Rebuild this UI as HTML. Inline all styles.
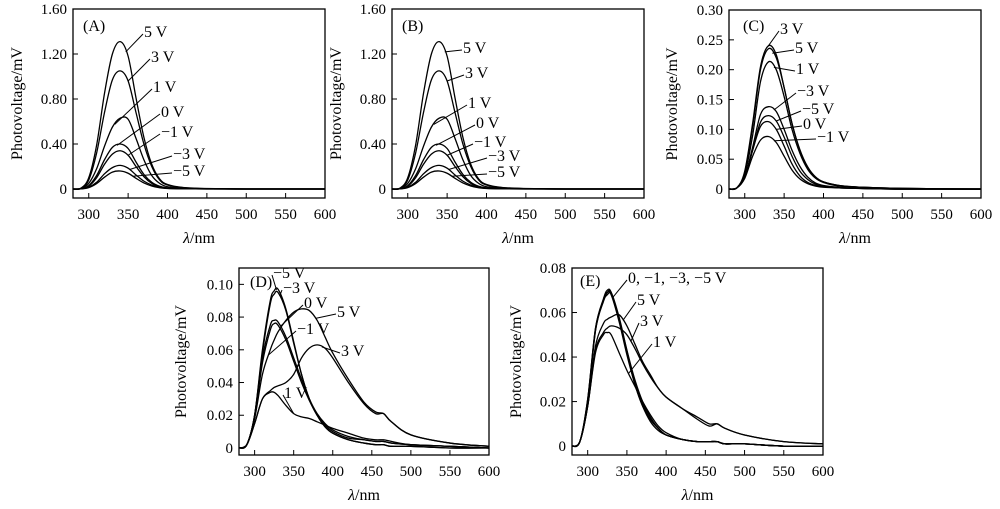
<!DOCTYPE html>
<html><head><meta charset="utf-8">
<style>
html,body{margin:0;padding:0;background:#fff;}
svg{display:block;font-family:"Liberation Serif",serif;}
</style></head>
<body>
<svg id="fig" width="1000" height="509" viewBox="0 0 1000 509" xmlns="http://www.w3.org/2000/svg"></svg>
<script>
// ---- shared x tick data ----
const xTickVals = [300,350,400,450,500,550,600];
// ---- Panel A / B data ----
const wlAB = [280,290,300,310,320,330,340,350,360,370,380,390,400,420,450,500,600];
const a5 = [0,0.007,0.1,0.39,0.85,1.2,1.31,1.18,0.81,0.46,0.22,0.09,0.04,0.013,0.004,0,0];
const a3 = [0,0.005,0.08,0.32,0.68,0.97,1.05,0.96,0.68,0.4,0.2,0.08,0.035,0.012,0.003,0,0];
const a1 = [0,0.003,0.05,0.18,0.38,0.55,0.63,0.62,0.45,0.26,0.12,0.05,0.02,0.008,0.002,0,0];
const a0 = [0,0.002,0.03,0.12,0.26,0.37,0.40,0.36,0.24,0.13,0.06,0.025,0.01,0.004,0.001,0,0];
const am1 = [0,0.002,0.025,0.1,0.22,0.31,0.34,0.3,0.2,0.11,0.05,0.02,0.008,0.003,0.001,0,0];
const am3 = [0,0.001,0.016,0.06,0.135,0.19,0.21,0.185,0.125,0.07,0.035,0.014,0.006,0.002,0,0,0];
const am5 = [0,0.001,0.012,0.048,0.105,0.15,0.16,0.14,0.095,0.054,0.027,0.011,0.005,0.002,0,0,0];
const yTicksAB = [0,0.4,0.8,1.2,1.6];
const yLabelsAB = ["0","0.40","0.80","1.20","1.60"];
// ---- Panel C data ----
const wlC = [280,290,300,310,320,330,340,350,360,370,380,390,400,420,450,500,600];
const c3 = [0,0.002,0.03,0.11,0.205,0.24,0.225,0.17,0.11,0.065,0.036,0.02,0.012,0.006,0.003,0.001,0];
const c5 = [0,0.002,0.028,0.105,0.2,0.235,0.22,0.17,0.11,0.066,0.037,0.02,0.012,0.006,0.003,0.001,0];
const c1 = [0,0.002,0.025,0.09,0.18,0.213,0.2,0.155,0.1,0.06,0.033,0.018,0.011,0.005,0.003,0.001,0];
const cm3 = [0,0.002,0.02,0.07,0.125,0.138,0.13,0.1,0.065,0.038,0.02,0.01,0.006,0.003,0.001,0,0];
const cm5 = [0,0.002,0.02,0.065,0.112,0.123,0.114,0.087,0.055,0.03,0.016,0.008,0.005,0.002,0.001,0,0];
const c0 = [0,0.002,0.02,0.065,0.105,0.113,0.1,0.072,0.042,0.022,0.011,0.006,0.004,0.002,0.001,0,0];
const cm1 = [0,0.002,0.018,0.055,0.082,0.088,0.078,0.055,0.032,0.017,0.009,0.005,0.003,0.002,0.001,0,0];
const yTicksC = [0,0.05,0.1,0.15,0.2,0.25,0.3];
const yLabelsC = ["0","0.05","0.10","0.15","0.20","0.25","0.30"];
// ---- Panel D data ----
const wlDE = [280,290,300,310,320,325,330,340,350,360,370,380,390,400,420,440,455,465,475,500,550,600];
const dm5 = [0,0.002,0.02,0.06,0.09,0.096,0.097,0.085,0.065,0.045,0.03,0.02,0.013,0.009,0.005,0.003,0.002,0.002,0.001,0.001,0,0];
const dm3 = [0,0.002,0.02,0.058,0.088,0.094,0.095,0.084,0.064,0.045,0.03,0.02,0.013,0.009,0.005,0.003,0.002,0.002,0.001,0.001,0,0];
const d0 = [0,0.002,0.02,0.055,0.075,0.078,0.077,0.068,0.055,0.042,0.03,0.021,0.015,0.011,0.007,0.005,0.004,0.004,0.003,0.002,0.001,0];
const dm1 = [0,0.002,0.019,0.052,0.072,0.076,0.075,0.066,0.053,0.04,0.029,0.02,0.014,0.01,0.006,0.005,0.004,0.004,0.003,0.002,0.001,0];
const d5 = [0,0.002,0.018,0.045,0.06,0.066,0.071,0.078,0.083,0.085,0.084,0.078,0.068,0.058,0.042,0.028,0.022,0.021,0.016,0.008,0.003,0.001];
const d3 = [0,0.002,0.015,0.03,0.035,0.037,0.038,0.04,0.045,0.055,0.061,0.063,0.061,0.055,0.04,0.027,0.021,0.021,0.016,0.008,0.003,0.001];
const d1 = [0,0.002,0.015,0.03,0.034,0.034,0.032,0.026,0.021,0.019,0.018,0.016,0.014,0.012,0.009,0.006,0.005,0.005,0.004,0.002,0.001,0];
const yTicksD = [0,0.02,0.04,0.06,0.08,0.1];
const yLabelsD = ["0","0.02","0.04","0.06","0.08","0.10"];
// ---- Panel E data ----
const e0 = [0,0.002,0.02,0.052,0.065,0.069,0.069,0.058,0.043,0.029,0.019,0.012,0.008,0.005,0.003,0.002,0.002,0.002,0.001,0.001,0,0];
const em1 = [0,0.002,0.02,0.052,0.066,0.070,0.069,0.057,0.042,0.028,0.018,0.012,0.008,0.005,0.003,0.002,0.002,0.002,0.001,0.001,0,0];
const em3 = [0,0.002,0.021,0.053,0.066,0.069,0.068,0.056,0.041,0.028,0.018,0.011,0.007,0.005,0.003,0.002,0.002,0.002,0.001,0.001,0,0];
const em5 = [0,0.002,0.021,0.053,0.065,0.068,0.068,0.057,0.043,0.03,0.02,0.013,0.008,0.005,0.003,0.002,0.002,0.002,0.001,0.001,0,0];
const e5 = [0,0.002,0.018,0.045,0.055,0.057,0.058,0.059,0.054,0.046,0.038,0.032,0.026,0.022,0.017,0.013,0.01,0.01,0.008,0.005,0.002,0.001];
const e3 = [0,0.002,0.018,0.043,0.051,0.053,0.054,0.053,0.05,0.044,0.037,0.031,0.026,0.022,0.017,0.012,0.009,0.01,0.008,0.005,0.002,0.001];
const e1 = [0,0.002,0.018,0.042,0.05,0.051,0.05,0.042,0.034,0.027,0.02,0.014,0.009,0.006,0.003,0.002,0.002,0.002,0.001,0.001,0,0];
const yTicksE = [0,0.02,0.04,0.06,0.08];
const yLabelsE = ["0","0.02","0.04","0.06","0.08"];

const NS = "http://www.w3.org/2000/svg";
const svg = document.getElementById('fig');
function mk(tag, attrs, parent){ const e=document.createElementNS(NS,tag); for(const k in attrs) e.setAttribute(k,attrs[k]); (parent||svg).appendChild(e); return e; }

function smoothPath(pts){
  let d = "M"+pts[0][0].toFixed(2)+","+pts[0][1].toFixed(2);
  for(let i=0;i<pts.length-1;i++){
    const p0=pts[Math.max(0,i-1)], p1=pts[i], p2=pts[i+1], p3=pts[Math.min(pts.length-1,i+2)];
    const c1x=p1[0]+(p2[0]-p0[0])/6, c1y=p1[1]+(p2[1]-p0[1])/6;
    const c2x=p2[0]-(p3[0]-p1[0])/6, c2y=p2[1]-(p3[1]-p1[1])/6;
    d+=" C"+c1x.toFixed(2)+","+c1y.toFixed(2)+" "+c2x.toFixed(2)+","+c2y.toFixed(2)+" "+p2[0].toFixed(2)+","+p2[1].toFixed(2);
  }
  return d;
}
function interp(wl, vals, w){
  for(let i=0;i<wl.length-1;i++){ if(w>=wl[i]&&w<=wl[i+1]){ const t=(w-wl[i])/(wl[i+1]-wl[i]); return vals[i]+t*(vals[i+1]-vals[i]); } }
  return vals[vals.length-1];
}

function panel(cfg){
  const g = mk('g',{});
  
  
  const L=cfg.left,R=cfg.right,T=cfg.top,B=cfg.bottom;
  const xs = w => L + (w-280)/(600-280)*(R-L);
  const ys = v => B - (v-cfg.ymin)/(cfg.ymax-cfg.ymin)*(B-T);
  // frame
  const fr = mk('rect',{x:L,y:T,width:R-L,height:B-T,fill:'none',stroke:'#000','stroke-width':1.3},g);
  
  
  // x ticks
  xTickVals.forEach(v=>{
    const x=xs(v);
    const t = mk('line',{x1:x,y1:B,x2:x,y2:B-5,stroke:'#000','stroke-width':1},g);
    
    
    const tl = mk('text',{x:x,y:B+21,'font-size':15,'text-anchor':'middle'},g);
    tl.textContent = String(v);
    
    
  });
  // y ticks
  cfg.yTicks.forEach((v,i)=>{
    const y=ys(v);
    const t = mk('line',{x1:L,y1:y,x2:L+5,y2:y,stroke:'#000','stroke-width':1},g);
    
    
    const tl = mk('text',{x:L-6,y:y+5,'font-size':15,'text-anchor':'end'},g);
    tl.textContent = cfg.yLabels[i];
    
    
  });
  // axis titles
  const yt = mk('text',{x:0,y:0,'font-size':16,'text-anchor':'middle',transform:`translate(${cfg.ytX},${(T+B)/2}) rotate(-90)`},g);
  yt.textContent = 'Photovoltage/mV';
  
  
  const xt = mk('text',{x:(L+R)/2,y:B+45,'font-size':16,'text-anchor':'middle'},g);
  
  
  const lam = mk('tspan',{'font-style':'italic'},xt); lam.textContent='λ';
  const nm = mk('tspan',{},xt); nm.textContent='/nm';
  // series
  cfg.series.forEach(s=>{
    const pts = cfg.wl.map((w,i)=>[xs(w), ys(s.vals[i])]);
    const p = mk('path',{d:smoothPath(pts),fill:'none',stroke:'#000','stroke-width':1.3},g);
    
    
  });
  // panel letter
  const pl = mk('text',{x:cfg.letterX,y:cfg.letterY,'font-size':16},g);
  pl.textContent = '('+cfg.id.toUpperCase()+')';
  
  
  // annotation labels with leaders
  cfg.labels.forEach(lb=>{
    const s = cfg.series[lb.s];
    const px = xs(lb.wl), py = ys(interp(cfg.wl, s.vals, lb.wl));
    const ln = mk('line',{x1:lb.x-1,y1:lb.y+2,x2:px,y2:py,stroke:'#000','stroke-width':1},g);
    
    
    const tx = mk('text',{x:lb.x,y:lb.y+5,'font-size':16},g);
    tx.textContent = lb.t;
    
    
  });
}

const seriesAB = [
  {name:'5v',vals:a5},{name:'3v',vals:a3},{name:'1v',vals:a1},{name:'0v',vals:a0},
  {name:'m1v',vals:am1},{name:'m3v',vals:am3},{name:'m5v',vals:am5}];
panel({id:'a',left:73,right:325,top:9,bottom:198,ymin:-0.08,ymax:1.6,wl:wlAB,
  yTicks:yTicksAB,yLabels:yLabelsAB,ytX:22,letterX:83,letterY:31,series:seriesAB,
  labels:[{t:'5 V',x:144,y:32,wl:347,s:0},{t:'3 V',x:151,y:57,wl:350,s:1},{t:'1 V',x:153,y:87,wl:333,s:2},
  {t:'0 V',x:161,y:112,wl:336,s:3},{t:'−1 V',x:161,y:132,wl:350,s:4},{t:'−3 V',x:173,y:154,wl:352,s:5},{t:'−5 V',x:173,y:171,wl:356,s:6}]});
panel({id:'b',left:392,right:644,top:9,bottom:198,ymin:-0.08,ymax:1.6,wl:wlAB,
  yTicks:yTicksAB,yLabels:yLabelsAB,ytX:341,letterX:402,letterY:31,series:seriesAB,
  labels:[{t:'5 V',x:463,y:48,wl:347,s:0},{t:'3 V',x:465,y:73,wl:350,s:1},{t:'1 V',x:468,y:103,wl:333,s:2},
  {t:'0 V',x:476,y:123,wl:336,s:3},{t:'−1 V',x:474,y:142,wl:350,s:4},{t:'−3 V',x:488,y:156,wl:352,s:5},{t:'−5 V',x:488,y:172,wl:356,s:6}]});
panel({id:'c',left:729,right:981,top:10,bottom:198,ymin:-0.015,ymax:0.3,wl:wlC,
  yTicks:yTicksC,yLabels:yLabelsC,ytX:677,letterX:743,letterY:31,
  series:[{name:'3v',vals:c3},{name:'5v',vals:c5},{name:'1v',vals:c1},{name:'m3v',vals:cm3},{name:'m5v',vals:cm5},{name:'0v',vals:c0},{name:'m1v',vals:cm1}],
  labels:[{t:'3 V',x:780,y:29,wl:330,s:0},{t:'5 V',x:795,y:48,wl:335,s:1},{t:'1 V',x:796,y:69,wl:337,s:2},
  {t:'−3 V',x:797,y:91,wl:337,s:3},{t:'−5 V',x:802,y:109,wl:340,s:4},{t:'0 V',x:803,y:124,wl:340,s:5},{t:'−1 V',x:817,y:137,wl:337,s:6}]});
panel({id:'d',left:239,right:489,top:268,bottom:455,ymin:-0.0043,ymax:0.11,wl:wlDE,
  yTicks:yTicksD,yLabels:yLabelsD,ytX:186,letterX:250,letterY:287,
  series:[{name:'m5v',vals:dm5},{name:'m3v',vals:dm3},{name:'0v',vals:d0},{name:'m1v',vals:dm1},{name:'5v',vals:d5},{name:'3v',vals:d3},{name:'1v',vals:d1}],
  labels:[{t:'−5 V',x:273,y:273,wl:328,s:0},{t:'−3 V',x:283,y:288,wl:332,s:1},{t:'0 V',x:304,y:303,wl:333,s:2},
  {t:'5 V',x:337,y:312,wl:378,s:4},{t:'−1 V',x:297,y:329,wl:318,s:4},{t:'3 V',x:341,y:351,wl:386,s:5},{t:'1 V',x:284,y:393,wl:350,s:6}]});
panel({id:'e',left:572,right:823,top:268,bottom:455,ymin:-0.004,ymax:0.08,wl:wlDE,
  yTicks:yTicksE,yLabels:yLabelsE,ytX:521,letterX:580,letterY:286,
  series:[{name:'0v',vals:e0},{name:'m1v',vals:em1},{name:'m3v',vals:em3},{name:'m5v',vals:em5},{name:'5v',vals:e5},{name:'3v',vals:e3},{name:'1v',vals:e1}],
  labels:[{t:'0, −1, −3, −5 V',x:628,y:278,wl:332,s:0},{t:'5 V',x:637,y:300,wl:345,s:4},{t:'3 V',x:640,y:321,wl:355,s:5},{t:'1 V',x:653,y:342,wl:352,s:6}]});
</script>
</body></html>
